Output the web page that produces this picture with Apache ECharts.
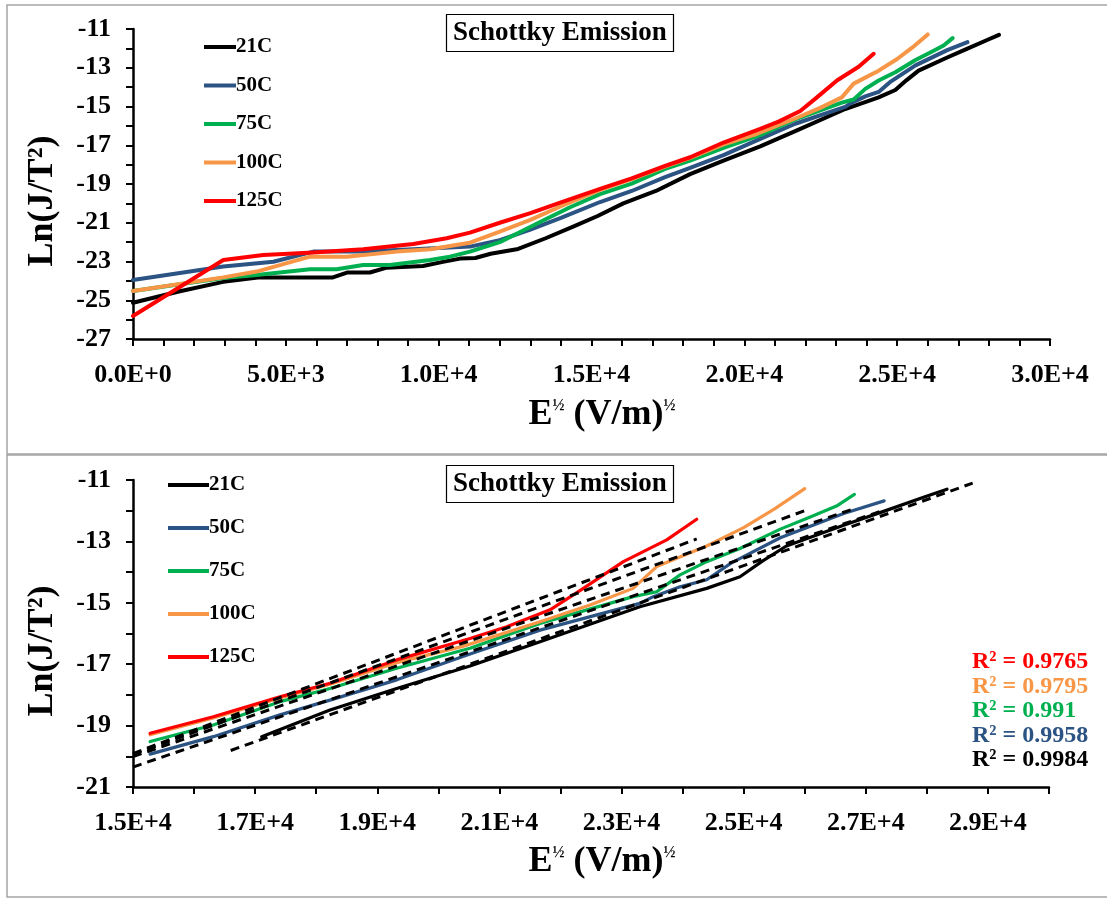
<!DOCTYPE html>
<html>
<head>
<meta charset="utf-8">
<script src="https://cdn.jsdelivr.net/npm/echarts/dist/echarts.min.js"></script>
<style>
html,body{margin:0;padding:0;background:#fff;}
#chart{width:1107px;height:899px;}
</style>
</head>
<body>
<div id="chart"></div>
<script>
// ---------- data ----------
const seriesNames = ['21C', '50C', '75C', '100C', '125C'];
const seriesColors = ['#000000', '#2B5383', '#00B050', '#F79646', '#FF0000'];

const data21C = [[0,-25.13],[1500,-24.55],[2950,-24.05],[4150,-23.82],[6540,-23.82],[7000,-23.57],[7750,-23.57],[8300,-23.32],[9490,-23.23],[10140,-23.02],[10700,-22.85],[11200,-22.82],[11700,-22.6],[12600,-22.35],[13500,-21.8],[14400,-21.2],[15200,-20.65],[16040,-20.0],[17107,-19.36],[18226,-18.49],[19318,-17.79],[20519,-17.06],[21665,-16.27],[23300,-15.13],[24394,-14.53],[24940,-14.15],[25300,-13.65],[25700,-13.15],[26637,-12.47],[27280,-12.03],[27981,-11.54],[28330,-11.3]];
const data50C = [[0,-23.95],[2955,-23.26],[4590,-23.01],[5900,-22.49],[7530,-22.49],[9170,-22.37],[11025,-22.23],[12000,-21.9],[13000,-21.35],[14000,-20.75],[15280,-19.93],[16315,-19.36],[17407,-18.65],[18226,-18.17],[19318,-17.51],[20519,-16.67],[21665,-15.89],[23300,-15.02],[23520,-14.8],[23958,-14.48],[24394,-14.25],[24800,-13.7],[25600,-12.88],[26637,-12.09],[27300,-11.68]];
const data75C = [[0,-24.52],[2955,-23.85],[4045,-23.7],[5790,-23.4],[6660,-23.4],[7530,-23.18],[8400,-23.18],[9720,-22.92],[10370,-22.75],[11025,-22.49],[12000,-22.0],[12700,-21.45],[13400,-20.9],[14300,-20.2],[15280,-19.52],[16315,-18.98],[17407,-18.22],[18226,-17.79],[19318,-17.13],[20519,-16.48],[21665,-15.67],[23190,-14.8],[23576,-14.64],[23958,-14.09],[24394,-13.66],[24940,-13.23],[25600,-12.6],[26100,-12.2],[26520,-11.85],[26813,-11.47]];
const data100C = [[0,-24.52],[2955,-23.82],[4045,-23.52],[5790,-22.75],[6990,-22.75],[8630,-22.49],[9720,-22.37],[11025,-22.03],[12000,-21.46],[13000,-20.85],[14000,-20.15],[15280,-19.3],[16315,-18.75],[17407,-18.1],[18226,-17.65],[19318,-16.95],[20400,-16.42],[21665,-15.62],[22484,-15.07],[23190,-14.53],[23576,-13.82],[24394,-13.15],[25000,-12.55],[25500,-11.95],[26000,-11.28]];
const data125C = [[0,-25.81],[2955,-22.92],[4260,-22.66],[5900,-22.54],[7530,-22.37],[9170,-22.1],[10260,-21.8],[11025,-21.51],[12000,-21.0],[13000,-20.5],[14000,-19.95],[15280,-19.25],[16315,-18.71],[17407,-18.06],[18226,-17.62],[19318,-16.86],[20519,-16.16],[21120,-15.78],[21829,-15.23],[22375,-14.53],[23030,-13.66],[23740,-12.95],[24231,-12.28]];
const allData = [data21C, data50C, data75C, data100C, data125C];

// first x used in the lower (fitting) panel for each series
const fitFrom = [17107, 15280, 15280, 15280, 15280];

// linear trend lines of the lower panel (end points)
const trend21C = [[16600,-19.81],[28750,-11.10]];
const trend50C = [[15000,-20.35],[27300,-11.98]];
const trend75C = [[15000,-20.01],[26813,-11.93]];
const trend100C = [[15000,-19.94],[26000,-12.00]];
const trend125C = [[15000,-19.91],[24231,-12.92]];
const trends = [trend21C, trend50C, trend75C, trend100C, trend125C];

// R² labels, top to bottom
const r2Labels = ['0.9765', '0.9795', '0.991', '0.9958', '0.9984'];
const r2Colors = ['#FF0000', '#F79646', '#00B050', '#2B5383', '#000000'];

const chartTitle = 'Schottky Emission';
const yName = 'Ln(J/T²)';

// ---------- chart ----------
const FONT = '"Liberation Serif", "Times New Roman", serif';
const chart = echarts.init(document.getElementById('chart'), null, {renderer: 'canvas'});

function xAxisCfg(gi, min, max, every, showLast) {
  return {
    type: 'value', gridIndex: gi, min: min, max: max, interval: 1000,
    axisLine: {show: true, onZero: false, lineStyle: {color: '#000', width: 2.5}},
    axisTick: {show: true, inside: false, length: 7, lineStyle: {color: '#000', width: 2}},
    splitLine: {show: false},
    axisLabel: {
      show: true, margin: 23, color: '#000', fontSize: 26, fontWeight: 'bold', fontFamily: FONT,
      showMinLabel: true, showMaxLabel: true,
      formatter: function (v) {
        const r = Math.round(v);
        if ((r - min) % every !== 0) return '';
        if (!showLast && r >= max) return '';
        return r.toExponential(1).toUpperCase();
      }
    }
  };
}
function yAxisCfg(gi, min, max) {
  return {
    type: 'value', gridIndex: gi, min: min, max: max, interval: 1,
    axisLine: {show: true, onZero: false, lineStyle: {color: '#000', width: 2.5}},
    axisTick: {show: true, inside: false, length: 7, lineStyle: {color: '#000', width: 2}},
    splitLine: {show: false},
    axisLabel: {
      show: true, margin: 22, color: '#000', fontSize: 26, fontWeight: 'bold', fontFamily: FONT,
      showMinLabel: true, showMaxLabel: true,
      formatter: function (v) {
        const r = Math.round(v);
        return (Math.abs(r) % 2 === 1) ? String(r) : '';
      }
    }
  };
}

const series = [];
allData.forEach(function (d, i) {
  series.push({
    name: seriesNames[i], type: 'line', xAxisIndex: 0, yAxisIndex: 0,
    data: d, symbol: 'none', showSymbol: false, z: 2 + i,
    itemStyle: {color: seriesColors[i]},
    lineStyle: {color: seriesColors[i], width: 4, cap: 'round', join: 'round'},
    emphasis: {disabled: true}
  });
});
allData.forEach(function (d, i) {
  series.push({
    name: seriesNames[i], type: 'line', xAxisIndex: 1, yAxisIndex: 1,
    data: d.filter(function (p) { return p[0] >= fitFrom[i]; }),
    symbol: 'none', showSymbol: false, z: 2 + i,
    itemStyle: {color: seriesColors[i]},
    lineStyle: {color: seriesColors[i], width: 3.2, cap: 'round', join: 'round'},
    emphasis: {disabled: true}
  });
});
trends.forEach(function (t, i) {
  series.push({
    name: 'trend ' + seriesNames[i], type: 'line', xAxisIndex: 1, yAxisIndex: 1,
    data: t, symbol: 'none', showSymbol: false, z: 10, silent: true,
    lineStyle: {color: '#000', width: 3, type: [9, 6]},
    emphasis: {disabled: true}
  });
});

function legendCfg(left, top, w, gap) {
  return {
    data: seriesNames, left: left, top: top, orient: 'vertical', icon: 'rect', padding: 0,
    itemWidth: w, itemHeight: 4, itemGap: gap, selectedMode: false,
    textStyle: {color: '#000', fontSize: 21, fontWeight: 'bold', fontFamily: FONT, lineHeight: 22, padding: [0, 0, 0, -5]}
  };
}
function titleCfg(top) {
  return {
    text: chartTitle, left: 446, top: top, padding: [5, 7],
    borderColor: '#000', borderWidth: 1.2,
    textStyle: {color: '#000', fontSize: 27, fontWeight: 'bold', fontFamily: FONT, lineHeight: 28}
  };
}
function xNameText(y) {
  return {
    type: 'text', x: 602, y: y, silent: true,
    style: {
      text: '{n|E}{s|½}{n| (V/m)}{s|½}', align: 'center', verticalAlign: 'middle',
      rich: {
        n: {fontSize: 36, fontWeight: 'bold', fontFamily: FONT, fill: '#000', color: '#000'},
        s: {fontSize: 16, fontWeight: 'bold', fontFamily: FONT, fill: '#000', color: '#000', verticalAlign: 'top', padding: [1, 0, 0, 0]}
      }
    }
  };
}
function yNameText(y) {
  return {
    type: 'text', x: 43, y: y, rotation: Math.PI / 2, silent: true,
    style: {text: yName, align: 'center', verticalAlign: 'middle', fill: '#000', font: 'bold 36px ' + FONT}
  };
}
const graphics = [
  {type: 'rect', shape: {x: 7, y: 5, width: 1120, height: 449}, style: {fill: 'none', stroke: '#A5A5A5', lineWidth: 1.5}, silent: true, z: -1},
  {type: 'rect', shape: {x: 7, y: 455, width: 1120, height: 442}, style: {fill: 'none', stroke: '#A5A5A5', lineWidth: 1.5}, silent: true, z: -1},
  xNameText(415), xNameText(862), yNameText(201), yNameText(651)
];
r2Labels.forEach(function (t, i) {
  graphics.push({
    type: 'text', x: 972, y: 662 + i * 24.5, silent: true,
    style: {text: 'R² = ' + t, align: 'left', verticalAlign: 'middle', fill: r2Colors[i], font: 'bold 24px ' + FONT}
  });
});

chart.setOption({
  animation: false,
  backgroundColor: '#fff',
  color: seriesColors,
  title: [titleCfg(14), titleCfg(465)],
  legend: [legendCfg(204, 36, 32, 16.5), legendCfg(168, 474, 41, 21)],
  grid: [
    {left: 133, top: 29, width: 917, height: 310, outerBoundsMode: 'none', containLabel: false},
    {left: 133, top: 480, width: 916, height: 307, outerBoundsMode: 'none', containLabel: false}
  ],
  xAxis: [xAxisCfg(0, 0, 30000, 5000, true), xAxisCfg(1, 15000, 30000, 2000, false)],
  yAxis: [yAxisCfg(0, -27, -11), yAxisCfg(1, -21, -11)],
  series: series,
  graphic: graphics
});
</script>
</body>
</html>
